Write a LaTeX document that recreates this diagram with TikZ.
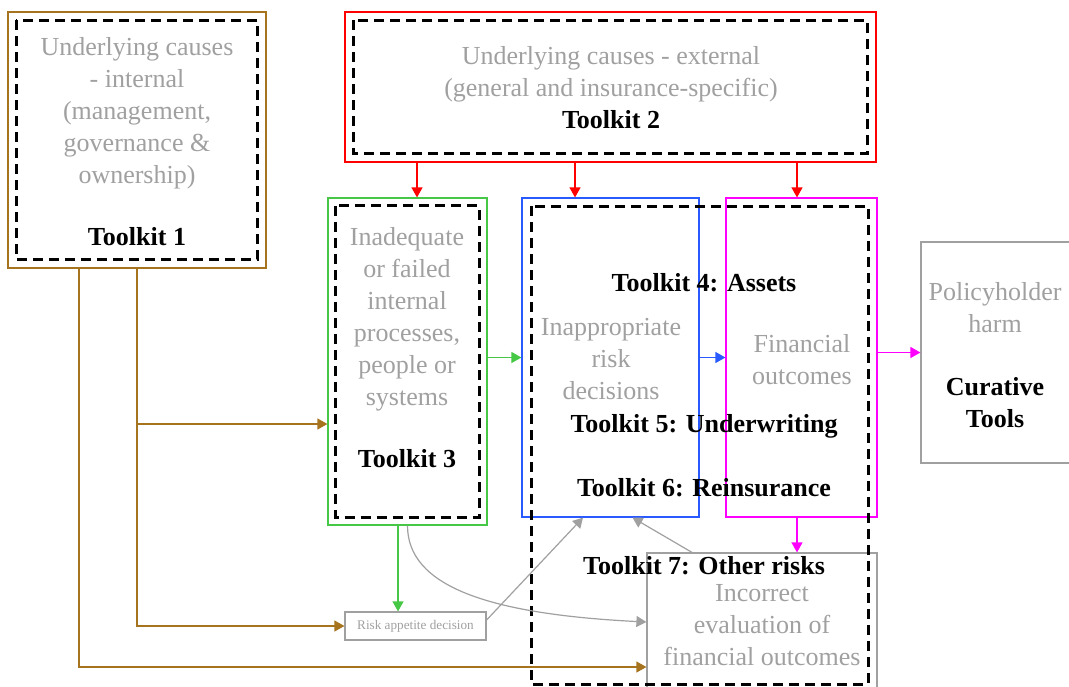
\documentclass[tikz,border=0pt]{standalone}
\usepackage{fontspec}
\setmainfont{Liberation Serif}
\usetikzlibrary{arrows.meta,positioning,calc}
\definecolor{umber}{RGB}{166,116,30}
\definecolor{grass}{RGB}{70,200,70}
\definecolor{royal}{RGB}{40,90,255}
\definecolor{fuchsia}{RGB}{255,0,255}
\definecolor{ash}{RGB}{160,160,160}

\begin{document}
\begin{tikzpicture}[x=0.5pt,y=-0.5pt,
  box/.style={draw, line width=0.6pt, inner sep=0},
  kit/.style={draw=black, line width=1.5pt, dash pattern=on 5pt off 3pt},
  arr/.style={-{Triangle[length=5pt,width=5.5pt]}, line width=0.6pt},
  cause/.style={text=ash, align=center, inner sep=0, font=\fontsize{13pt}{16pt}\selectfont},
  tool/.style={align=center, inner sep=0, font=\bfseries\fontsize{13pt}{16pt}\selectfont}]
\useasboundingbox (0,0) rectangle (1069,686);
\clip (0,0) rectangle (1069,686);

% Underlying causes
\node[box, draw=umber, minimum width=129pt, minimum height=128pt] (int) at (137,140) {};
\node[box, draw=red, minimum width=265.5pt, minimum height=75pt] (ext) at (610.5,87) {};

% What goes wrong
\node[box, draw=grass, minimum width=79.5pt, minimum height=163.5pt] (proc) at (407.5,361.5) {};
\node[box, draw=royal, minimum width=88.5pt, minimum height=159.5pt] (dec) at (610.5,357.5) {};
\node[box, draw=fuchsia, minimum width=75.5pt, minimum height=159.5pt] (fin) at (801.5,357.5) {};

% Results
\node[box, draw=ash, minimum width=75.5pt, minimum height=110.5pt] (harm) at (996.5,352.5) {};
\node[box, draw=ash, minimum width=70.5pt, minimum height=14pt, text=ash,
  font=\fontsize{6.6pt}{8pt}\selectfont] (appetite) at (415.5,626) {Risk appetite decision};
\node[box, draw=ash, minimum width=115pt, minimum height=73pt] (eval) at (762,626) {};

% Toolkit frames
\draw[kit] ([shift={(4.5pt,-4.5pt)}]int.north west) rectangle ([shift={(-4.5pt,4.5pt)}]int.south east);
\draw[kit] ([shift={(4.5pt,-4.5pt)}]ext.north west) rectangle ([shift={(-4.5pt,4.5pt)}]ext.south east);
\draw[kit] ([shift={(4.25pt,-4.25pt)}]proc.north west) rectangle ([shift={(-4.25pt,4.25pt)}]proc.south east);
\draw[kit] (531,206) rectangle (868,684);

% Texts
\node[cause] (intx) at (137,113) {Underlying causes\\- internal\\(management,\\governance \&\\ownership)};
\node[tool] (kit1) at (137,237) {Toolkit 1};
\node[cause] (extx) at (611,74) {Underlying causes - external\\(general and insurance-specific)};
\node[tool] (kit2) at (611,120) {Toolkit 2};
\node[cause] (procx) at (407,319) {Inadequate\\or failed\\internal\\processes,\\people or\\systems};
\node[tool] (kit3) at (407,459) {Toolkit 3};
\node[cause] (decx) at (611,359) {Inappropriate\\risk\\decisions};
\node[cause] (finx) at (802,360) {Financial\\outcomes};
\node[tool] (kit4) at (704,283) {Toolkit 4: Assets};
\node[tool] (kit5) at (704,426) {Toolkit 5: Underwriting};
\node[tool] (kit6) at (704,488) {Toolkit 6: Reinsurance};
\node[tool] (kit7) at (704,566) {Toolkit 7: Other risks};
\node[cause] (harmx) at (995,308) {Policyholder\\harm};
\node[tool] (cure) at (995,403) {Curative\\Tools};
\node[cause] (evalx) at (762,625) {Incorrect\\evaluation of\\financial outcomes};

% Internal causes feed
\coordinate (intleft) at ([xshift=-29pt]int.south);
\draw[arr, umber] (int.south) |- ([yshift=-31.25pt]proc.west);
\draw[arr, umber] (int.south) |- (appetite.west);
\draw[arr, umber] (intleft) |- ([yshift=-20.5pt]eval.west);

% External causes feed
\coordinate (top3) at ([xshift=4.75pt]proc.north);
\coordinate (top4) at ([xshift=-17.75pt]dec.north);
\coordinate (top5) at ([xshift=-2.25pt]fin.north);
\draw[arr, red] (top3 |- ext.south) -- (top3);
\draw[arr, red] (top4 |- ext.south) -- (top4);
\draw[arr, red] (top5 |- ext.south) -- (top5);

% Main flow
\coordinate (low3) at ([xshift=-4.75pt]proc.south);
\draw[arr, grass] (proc.east |- dec.west) -- (dec.west);
\draw[arr, grass] (low3) -- (low3 |- appetite.north);
\draw[arr, royal] (dec.east) -- (fin.west);
\draw[arr, fuchsia] (fin.east |- harm.west) -- (harm.west);
\draw[arr, fuchsia] (top5 |- fin.south) -- (top5 |- eval.north);

% Feedback to decisions
\coordinate (low4a) at ([xshift=-13.75pt]dec.south);
\coordinate (low4b) at ([xshift=11pt]dec.south);
\draw[arr, ash] ([yshift=3pt]appetite.east) -- (low4a);
\draw[arr, ash] ([xshift=-35pt]eval.north) -- (low4b);
\draw[arr, ash] (proc.south) .. controls +(0,60) and +(-160,-8) .. ([yshift=2pt]eval.west);
\end{tikzpicture}
\end{document}
